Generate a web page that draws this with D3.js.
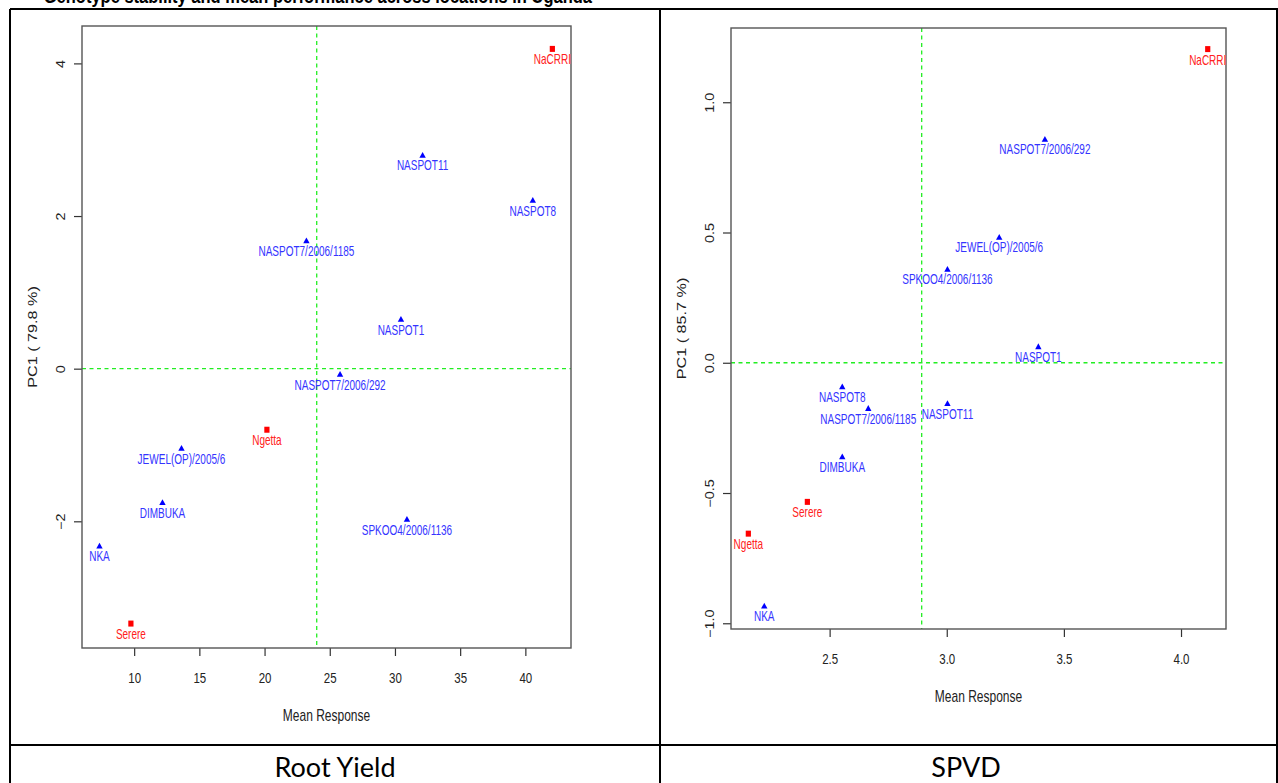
<!DOCTYPE html>
<meta charset="utf-8" />

<head>
  <style>
    body { margin: 0; background: #fff; }
    text { font-family: "Liberation Sans", Arial, sans-serif; }
  </style>
  <script src="https://d3js.org/d3.v7.min.js"></script>
</head>

<body>
  <svg width="1278" height="783"></svg>
  <script>
    // genotypes (blue triangles) and sites (red squares)
    const names = ["NaCRRI", "NASPOT11", "NASPOT8", "NASPOT7/2006/1185", "NASPOT1",
      "NASPOT7/2006/292", "Ngetta", "JEWEL(OP)/2005/6", "DIMBUKA", "NKA", "Serere",
      "SPKOO4/2006/1136"];
    const sites = ["NaCRRI", "Ngetta", "Serere"];

    // Root yield panel
    const rootMean = [42.07, 32.12, 40.57, 23.21, 30.46, 25.79, 20.18, 13.63, 12.17, 7.34, 9.75, 30.92];
    const rootPC1 = [4.19, 2.80, 2.21, 1.68, 0.65, -0.07, -0.80, -1.04, -1.75, -2.32, -3.34, -1.97];
    const rootXTicks = [10, 15, 20, 25, 30, 35, 40];
    const rootYTicks = [-2, 0, 2, 4];
    const rootCentre = 24.0;

    // SPVD panel
    const spvdMean = [4.114, 3.003, 2.554, 2.665, 3.391, 3.419, 2.153, 3.224, 2.554, 2.221, 2.405, 3.003];
    const spvdPC1 = [1.204, -0.155, -0.091, -0.174, 0.063, 0.859, -0.656, 0.483, -0.36, -0.933, -0.534, 0.360];
    const spvdXTicks = [2.5, 3.0, 3.5, 4.0];
    const spvdYTicks = [-1.0, -0.5, 0.0, 0.5, 1.0];
    const spvdCentre = 2.893;

    const svg = d3.select("svg");

    // the picture was stretched vertically when pasted, so text is taller than wide
    const S = 1.35;

    // cut-off caption above the table (only its lower edge shows)
    svg.append("text")
      .attr("transform", "translate(592,3) scale(1.1," + S + ")")
      .attr("text-anchor", "end")
      .style("font-weight", "bold")
      .style("font-size", "15px")
      .text("Genotype stability and mean performance across locations in Uganda");

    // table lines
    const table = svg.append("g").attr("stroke", "#000").attr("stroke-width", 2);
    table.append("line").attr("x1", 10).attr("x2", 1278).attr("y1", 9).attr("y2", 9);
    table.append("line").attr("x1", 10).attr("x2", 10).attr("y1", 9).attr("y2", 783);
    table.append("line").attr("x1", 660).attr("x2", 660).attr("y1", 9).attr("y2", 783);
    table.append("line").attr("x1", 1277).attr("x2", 1277).attr("y1", 9).attr("y2", 783);
    table.append("line").attr("x1", 10).attr("x2", 1278).attr("y1", 745).attr("y2", 745);

    svg.selectAll(".cellTitle")
      .data([["Root Yield", 335], ["SPVD", 966]])
      .enter()
      .append("text")
      .attr("class", "cellTitle")
      .attr("x", d => d[1])
      .attr("y", 777)
      .attr("text-anchor", "middle")
      .style("font-family", "Lato, 'Open Sans', sans-serif")
      .style("font-size", "27px")
      .style("fill", "#000")
      .text(d => d[0]);

    function drawPanel(p) {
      const x = d3.scaleLinear().domain(p.xDomain).range([p.x0, p.x1]);
      const y = d3.scaleLinear().domain(p.yDomain).range([p.y1, p.y0]);
      const g = svg.append("g");

      // x axis
      const xa = g.append("g")
        .attr("transform", "translate(0," + p.y1 + ")")
        .call(d3.axisBottom(x).tickValues(p.xTicks).tickSize(8).tickSizeOuter(0)
          .tickFormat(p.fmt));
      xa.select(".domain").remove();
      xa.selectAll("line").attr("stroke", "#333").attr("stroke-width", 1.2);
      xa.selectAll("text")
        .attr("y", null).attr("dy", null)
        .attr("transform", "translate(0,35) scale(1,1.3)")
        .style("font-size", "11.5px")
        .style("fill", "#222");

      // y axis, labels turned like R's default
      const ya = g.append("g")
        .attr("transform", "translate(" + p.x0 + ",0)")
        .call(d3.axisLeft(y).tickValues(p.yTicks).tickSize(8).tickSizeOuter(0)
          .tickFormat(p.fmt));
      ya.select(".domain").remove();
      ya.selectAll("line").attr("stroke", "#333").attr("stroke-width", 1.2);
      ya.selectAll("text")
        .attr("x", null).attr("dy", null)
        .attr("text-anchor", "middle")
        .attr("transform", "translate(-17,0) scale(1,1.2) rotate(-90)")
        .style("font-size", "12px")
        .style("fill", "#222");

      // reference lines
      g.append("line")
        .attr("x1", x(p.centre)).attr("x2", x(p.centre))
        .attr("y1", p.y0).attr("y2", p.y1)
        .attr("stroke", "#22ee22").attr("stroke-width", 1.3)
        .attr("stroke-dasharray", "4,3.5");
      g.append("line")
        .attr("x1", p.x0).attr("x2", p.x1)
        .attr("y1", y(0)).attr("y2", y(0))
        .attr("stroke", "#22ee22").attr("stroke-width", 1.3)
        .attr("stroke-dasharray", "4,3.5");

      // box
      g.append("rect")
        .attr("x", p.x0).attr("y", p.y0)
        .attr("width", p.x1 - p.x0).attr("height", p.y1 - p.y0)
        .attr("fill", "none").attr("stroke", "#555").attr("stroke-width", 1.4);

      // axis titles
      g.append("text")
        .attr("transform", "translate(" + (p.x0 + p.x1) / 2 + "," + (p.y1 + 73) + ") scale(1," + S + ")")
        .attr("text-anchor", "middle")
        .style("font-size", "12px")
        .style("fill", "#222")
        .text("Mean Response");
      g.append("text")
        .attr("transform", "translate(" + (p.x0 - 45) + "," + (p.y0 + p.y1) / 2 + ") scale(1," + S + ") rotate(-90)")
        .attr("text-anchor", "middle")
        .style("font-size", "12px")
        .style("fill", "#222")
        .text(p.yTitle);

      const data = names.map((n, i) => ({ name: n, mx: p.mean[i], pc: p.pc1[i], site: sites.includes(n) }));

      // markers
      g.selectAll(".sq")
        .data(data.filter(d => d.site))
        .enter()
        .append("rect")
        .attr("x", d => x(d.mx) - 2.6)
        .attr("y", d => y(d.pc) - 3)
        .attr("width", 5.2)
        .attr("height", 6)
        .attr("fill", "red");
      g.selectAll(".tri")
        .data(data.filter(d => !d.site))
        .enter()
        .append("path")
        .attr("d", d => {
          const cx = x(d.mx), cy = y(d.pc);
          return "M" + (cx - 3.2) + "," + (cy + 2.8) + "L" + (cx + 3.2) + "," + (cy + 2.8) + "L" + cx + "," + (cy - 3) + "Z";
        })
        .attr("fill", "#0000ff");

      // labels below each point
      g.selectAll(".lab")
        .data(data)
        .enter()
        .append("text")
        .attr("transform", d => "translate(" + x(d.mx) + "," + (y(d.pc) + 15.5) + ") scale(1,1.4)")
        .attr("text-anchor", "middle")
        .style("font-size", "10px")
        .style("fill", d => d.site ? "#ff2020" : "#3434ff")
        .text(d => d.name);
    }

    drawPanel({
      x0: 82, x1: 571, y0: 26, y1: 648,
      xDomain: [6.0, 43.5], yDomain: [-3.66, 4.49],
      xTicks: rootXTicks, yTicks: rootYTicks, fmt: d3.format("d"),
      centre: rootCentre, mean: rootMean, pc1: rootPC1,
      yTitle: "PC1 ( 79.8 %)"
    });

    drawPanel({
      x0: 731, x1: 1226, y0: 28, y1: 629,
      xDomain: [2.079, 4.192], yDomain: [-1.022, 1.285],
      xTicks: spvdXTicks, yTicks: spvdYTicks, fmt: d3.format(".1f"),
      centre: spvdCentre, mean: spvdMean, pc1: spvdPC1,
      yTitle: "PC1 ( 85.7 %)"
    });
  </script>
</body>
